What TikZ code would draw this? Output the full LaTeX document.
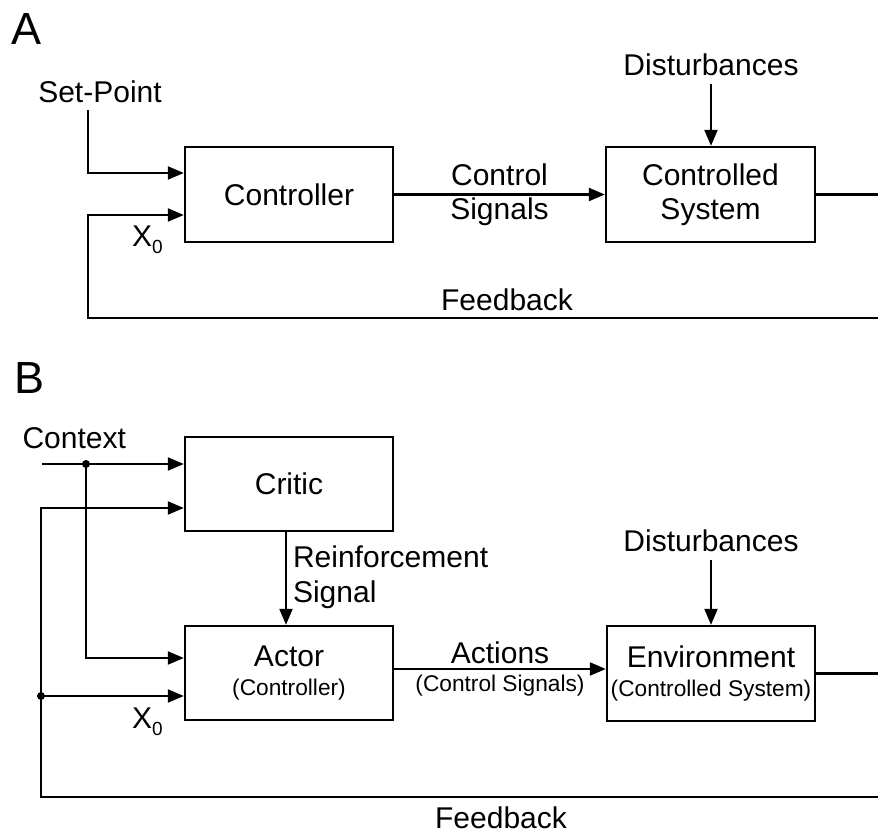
\documentclass[tikz,border=0pt]{standalone}
\usepackage{fontspec}
\setmainfont{Liberation Sans}
\usetikzlibrary{arrows.meta}
\tikzset{
  arr/.style={-{Triangle[length=16pt,width=13pt]}},
  blockbox/.style={draw, line width=2.3pt, minimum width=208pt, inner sep=0pt, align=center,
                   font=\fontsize{30}{34.5}\selectfont},
  lbl/.style={inner sep=0pt, font=\fontsize{30}{34.5}\selectfont},
  biglbl/.style={inner sep=0pt, font=\fontsize{45}{50}\selectfont},
  junction/.style={fill=black},
}
\newcommand{\smalltxt}{\fontsize{22.7}{26}\selectfont}
\newcommand{\subzero}{\raisebox{-7pt}{\fontsize{19}{19}\selectfont 0}}
\begin{document}
\begin{tikzpicture}[x=1pt, y=-1pt, line width=2.1pt]
\useasboundingbox (0,0) rectangle (878,834);

% ---------- A: classic feedback loop ----------
\node[biglbl, anchor=base west] (labA) at (10,45) {A};

\node[blockbox, minimum height=95pt] (ctrl) at (289,194.5) {Controller};
\node[blockbox, minimum height=95pt, minimum width=209pt] (csys) at (710.5,194.5) {Controlled\\System};

\node[lbl, anchor=base] (setpt) at (100,103) {Set-Point};
\node[lbl, anchor=base] (distA) at (711,76) {Disturbances};
\node[lbl, anchor=base] (fbtxtA) at (507,311) {Feedback};
\node[lbl, anchor=base west] (xA) at (131,247) {X\subzero};

\coordinate (sp) at (88,110);
\coordinate (spin) at (0,173);
\coordinate (xin) at (0,215);
\coordinate (fbA) at (878,318);
\coordinate (fbAc) at (88,318);

\draw[arr] (sp) |- (spin -| ctrl.west);
\draw[arr] (fbA) -- (fbAc) |- (xin -| ctrl.west);
\draw[arr] (ctrl.east) -- node[lbl, align=center] (csig) {Control\\Signals} (csys.west);
\draw[arr] ([yshift=-7pt]distA.south) -- (distA.south |- csys.north);
\draw (csys.east) -- (csys.east -| fbA);

% ---------- B: actor-critic loop ----------
\node[biglbl, anchor=base west] (labB) at (13.5,393) {B};

\node[blockbox, minimum height=94pt] (critic) at (289,484) {Critic};
\node[blockbox, minimum height=94pt] (actor) at (289,673) {Actor\\[-6pt]\smalltxt(Controller)};
\node[blockbox, minimum height=95pt] (env) at (711,673.5) {Environment\\[-6pt]\smalltxt(Controlled System)};

\node[lbl, anchor=base west] (ctxt) at (21.5,448) {Context};
\node[lbl, anchor=base] (distB) at (711,551) {Disturbances};
\node[lbl, anchor=base] (fbtxtB) at (501,828) {Feedback};
\node[lbl, anchor=base west] (xB) at (131,728) {X\subzero};
\node[lbl, anchor=north west, align=left] (reinf) at (292,545) {Reinforcement\\Signal};

\coordinate (ctxs) at (42,464);
\coordinate (jc) at (86,464);
\coordinate (actin) at (0,658);
\coordinate (crin) at (0,508);
\coordinate (fbB) at (878,797);
\coordinate (fbBc) at (41,797);
\coordinate (jf) at (41,696);
\coordinate (rx) at (286,0);

\draw[arr] (ctxs) -- (ctxs -| critic.west);
\draw[arr] (jc) |- (actin -| actor.west);
\fill[junction] (jc) circle (4pt);

\draw[arr] (fbB) -- (fbBc) |- (crin -| critic.west);
\draw[arr] (jf) -- (jf -| actor.west);
\fill[junction] (jf) circle (4pt);

\draw[arr] (rx |- critic.south) -- (rx |- actor.north);

\draw[arr] ([yshift=4pt]actor.east) -- node[lbl, align=center] (acts)
  {Actions\\[-6pt]\smalltxt(Control Signals)} ([yshift=4pt]actor.east -| env.west);
\draw[arr] ([yshift=-8pt]distB.south) -- (distB.south |- env.north);
\draw (env.east) -- (env.east -| fbB);
\end{tikzpicture}
\end{document}
